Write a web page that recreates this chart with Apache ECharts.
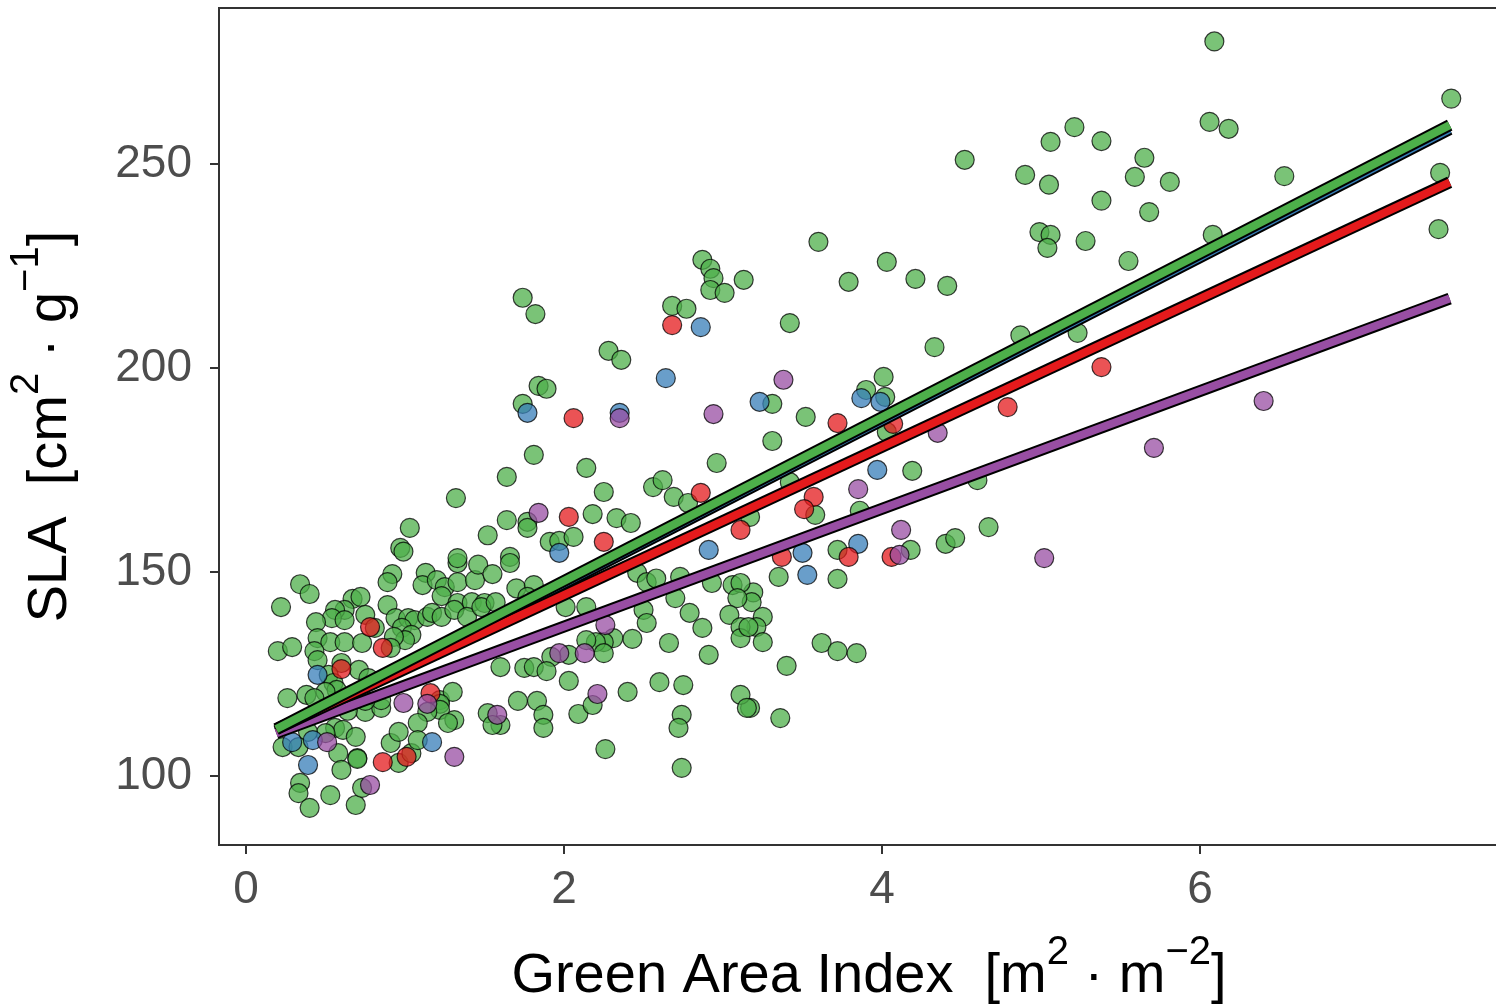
<!DOCTYPE html>
<html><head><meta charset="utf-8">
<script src="https://cdn.jsdelivr.net/npm/echarts@6/dist/echarts.min.js"></script>
<style>html,body{margin:0;padding:0;background:#fff}#c{width:1496px;height:1004px}</style>
</head><body><div id="c"></div>
<script>
const xTicks = [0, 2, 4, 6];
const yTicks = [100, 150, 200, 250];

const greenPts = [
[6.09,280],[7.58,266],[5.21,259],[5.06,255.4],[5.38,255.6],[6.06,260.3],[6.18,258.6],[4.90,247.3],[5.05,244.9],[5.65,251.5],[5.59,246.8],[5.81,245.6],[6.53,247],[7.51,247.8],[5.38,241],[5.68,238.2],[4.99,233.3],[5.06,232.6],[5.04,229.4],[5.28,231.1],[5.55,226.2],[6.08,232.6],[7.50,234],[4.52,251],
[4.87,208],[5.23,208.6],
[3.60,230.9],[3.13,221.6],[3.79,221.1],[4.03,226],[4.21,221.8],[4.41,220.1],
[2.87,226.5],[2.92,224.3],[2.94,222],[2.92,219.1],[3.01,218.4],
[1.74,217.2],[1.82,213.2],[2.68,215.2],[2.77,214.5],
[2.28,204.2],[2.36,202],[1.84,195.6],[1.89,194.9],[1.74,191.2],[1.81,178.7],[2.14,175.5],[1.64,173.3],[2.96,176.7],[2.25,169.6],[2.56,170.8],[2.62,172.5],[2.69,168.4],[2.78,166.9],[1.64,162.7],[1.77,162.3],[1.77,160.8],[2.18,164.2],[2.33,163.2],[2.42,162],[1.91,157.4],[1.97,157.6],[2.06,158.6],[1.66,153.7],
[3.42,211],[4.33,205.1],[3.31,191.2],[3.52,188],[3.31,182.1],[4.01,197.8],[3.90,194.6],[4.02,192.9],[4.03,184.3],[4.19,174.8],[4.60,172.5],[3.58,164],[3.42,172],[3.86,165],[4.67,161],[4.18,155.4],[4.40,156.9],[4.46,158.3],[3.72,155.4],[3.17,163.5],
[3.35,148.8],[3.72,148.3],[3.19,145],[3.18,142.6],[3.25,139],[3.21,136.5],[3.25,132.8],[3.40,127],[3.62,132.6],[3.72,130.6],[3.84,130.1],[3.17,116.7],[3.36,114.2],
[1.66,152.2],[1.70,146],[1.81,146.8],[1.77,143.9],[2.46,149.8],[2.52,147.5],[2.58,148.4],[2.73,148.8],[2.93,147.3],[3.06,146.8],[3.11,147.3],[3.09,143.6],[3.04,139.5],[3.11,136.5],[3.11,133.8],[3.16,136.5],[2.70,143.6],[2.79,140],[2.87,136.3],[2.50,140.7],[2.52,137.5],[2.43,133.6],[2.66,132.6],[2.91,129.7],[2.31,133.8],[2.25,132.8],[2.20,132.8],[2.25,130.1],[2.14,133.3],[2.03,129.7],[1.92,129.2],[2.01,141.4],[2.14,141.4],[1.75,126.5],[1.81,126.7],[1.89,125.7],[2.03,123.3],[1.60,126.7],[2.60,123],[2.75,122.3],[2.40,120.6],[1.71,118.4],[1.83,118.4],[1.87,115],[1.87,111.8],[2.09,115.2],[2.18,117.4],[1.60,112.5],[2.26,106.6],[2.74,115],[2.72,111.8],[2.74,102],[3.11,119.9],[3.15,116.7],
[0.34,147],[0.40,144.6],[0.22,141.4],[0.92,149.5],[0.89,147.5],[1.13,149.8],[1.11,146.8],[1.20,148],[1.25,146.3],[1.33,152.2],[1.33,147.5],[1.44,148],[1.23,144.1],[1.33,142.4],[1.42,142.6],[1.50,142.4],[0.67,143.4],[0.72,143.9],[0.62,140.7],[0.56,140.7],[0.54,138.7],[0.62,138.2],[0.44,137.7],[0.75,139.5],[0.81,136.3],[0.89,141.9],[0.94,138.7],[1.02,138.7],[1.06,138.2],[0.98,136.3],[1.04,134.6],[1.00,133.3],[0.93,134.1],[1.14,139],[1.17,140],[1.23,139],[1.31,140.7],[1.39,139],[1.48,141.4],[1.57,142.6],[0.45,133.8],[0.53,132.8],[0.62,132.8],[0.73,132.6],[0.20,130.6],[0.29,131.6],[0.43,130.6],[0.45,128.4],[0.91,131.4],[0.60,127.7],[0.52,124.8],[0.71,126],[0.77,124],[0.55,122.8],[0.57,121.1],[0.50,120.6],[0.38,119.9],[0.26,119.1],[0.43,119.1],[1.22,118.6],[1.30,120.6],[1.22,117.7],[1.22,116.2],[1.14,115.7],[1.31,113.7],[1.27,113.0],[1.08,113.0],[1.52,115.4],[1.55,112.5],[0.75,115.7],[0.85,116.7],[0.85,118.6],[0.64,116.0],[0.75,118.4],[0.67,119.1],[0.58,118.1],[0.56,111.8],[0.61,111.3],[0.69,109.6],[0.50,110.5],[0.39,110.8],[0.23,107.1],[0.33,107.1],[0.58,105.6],[0.70,104.4],[0.96,103.2],[1.04,105.6],[0.91,108.1],[0.96,110.8],[1.08,108.8],[0.60,101.5],[0.70,104.2],[0.34,98.3],[0.33,95.8],[0.40,92.2],[0.53,95.3],[0.69,92.9],[0.73,97.1],
[1.32,168.1],[1.03,160.8],[0.97,155.9],[0.99,155],[1.52,159],[1.33,153.4],[1.46,151.8],[1.55,149.5]
];
const bluePts = [
[2.86,210],[2.64,197.5],[1.77,189],[2.35,189],[2.91,155.4],[1.97,154.7],[3.23,191.7],[3.87,192.6],[3.99,191.7],[3.97,175],[3.85,156.9],[3.50,154.7],[3.53,149.3],[0.45,124.8],[0.42,108.8],[0.29,108.3],[1.17,108.3],[0.39,102.7]
];
const redPts = [
[2.68,210.5],[2.06,187.7],[2.86,169.4],[2.03,163.5],[2.25,157.4],[3.11,160.3],[5.38,200.2],[4.79,190.4],[3.72,186.5],[4.07,186.3],[3.57,168.4],[3.51,165.4],[3.79,153.7],[4.06,153.7],[3.37,153.7],[0.78,136.5],[0.86,131.4],[0.60,126.2],[1.16,120.3],[0.86,103.4],[1.01,104.7]
];
const purplePts = [
[2.35,187.7],[2.94,188.7],[1.84,164.5],[3.38,197.1],[4.35,184.1],[3.85,170.3],[4.12,160.3],[4.11,154.2],[6.40,191.9],[5.71,180.4],[5.02,153.4],[2.13,130.1],[1.97,130.1],[2.26,137],[2.21,120.1],[1.58,115],[0.99,117.9],[1.14,117.7],[0.51,108.3],[1.31,104.7],[0.78,97.8]
];

const lineX = [0.19, 7.57];
const greenFit = [111.5, 259.5];
const blueFit = [111.0, 258.5];
const redFit = [111.5, 245.5];
const purpleFit = [110.5, 217.0];

const COL = {green:'#4DAF4A', blue:'#377EB8', red:'#E41A1C', purple:'#984EA3'};

function scatter(pts, color){
  return {type:'scatter', data:pts, symbolSize:19, z:2,
    itemStyle:{color:color, opacity:0.75, borderColor:'#000', borderWidth:1.2}};
}
function fit(ys, color, z){
  const d = lineX.map((x,i)=>[x, ys[i]]);
  return [
    {type:'line', data:d, symbol:'none', z:z, silent:true, lineStyle:{color:'#000', width:12, cap:'butt'}},
    {type:'line', data:d, symbol:'none', z:z+0.5, silent:true, lineStyle:{color:color, width:8, cap:'butt'}}
  ];
}

const chart = echarts.init(document.getElementById('c'), null, {renderer:'canvas'});
const FONT = '"Liberation Sans", Arial, Helvetica, sans-serif';
const richTitle = {
  b:{fontFamily:FONT, fontSize:56, color:'#000', lineHeight:72, verticalAlign:'bottom'},
  s:{fontFamily:FONT, fontSize:40, color:'#000', lineHeight:72, verticalAlign:'top'}
};
chart.setOption({
  animation:false,
  backgroundColor:'#fff',
  grid:{left:219, top:8, width:1300, height:837, containLabel:false, outerBoundsMode:'none',
    show:true, borderColor:'#333', borderWidth:2, backgroundColor:'transparent'},
  xAxis:{type:'value', min:-0.17, max:-0.17 + 1300/159,
    axisLine:{show:false, onZero:false}, splitLine:{show:false},
    axisTick:{show:true, length:9, lineStyle:{color:'#333', width:2}, customValues:xTicks},
    axisLabel:{fontFamily:FONT, fontSize:46, color:'#4D4D4D', margin:22, customValues:xTicks},
    name:'{b|Green Area Index  [m}{s|2}{b| · m}{s|−2}{b|]}', nameLocation:'middle', nameGap:88,
    nameTextStyle:{fontFamily:FONT, color:'#000', rich:richTitle}
  },
  yAxis:{type:'value', min:83.1, max:288.2,
    axisLine:{show:false, onZero:false}, splitLine:{show:false},
    axisTick:{show:true, length:9, lineStyle:{color:'#333', width:2}, customValues:yTicks},
    axisLabel:{fontFamily:FONT, fontSize:46, color:'#4D4D4D', margin:27, customValues:yTicks},
    name:'{b|SLA  [cm}{s|2}{b| · g}{s|−1}{b|]}', nameLocation:'middle', nameGap:140, nameRotate:90,
    nameTextStyle:{fontFamily:FONT, color:'#000', rich:richTitle}
  },
  series:[
    scatter(greenPts, COL.green),
    scatter(bluePts, COL.blue),
    scatter(redPts, COL.red),
    scatter(purplePts, COL.purple),
    ...fit(blueFit, COL.blue, 10),
    ...fit(purpleFit, COL.purple, 11),
    ...fit(redFit, COL.red, 12),
    ...fit(greenFit, COL.green, 13)
  ]
});
</script></body></html>
